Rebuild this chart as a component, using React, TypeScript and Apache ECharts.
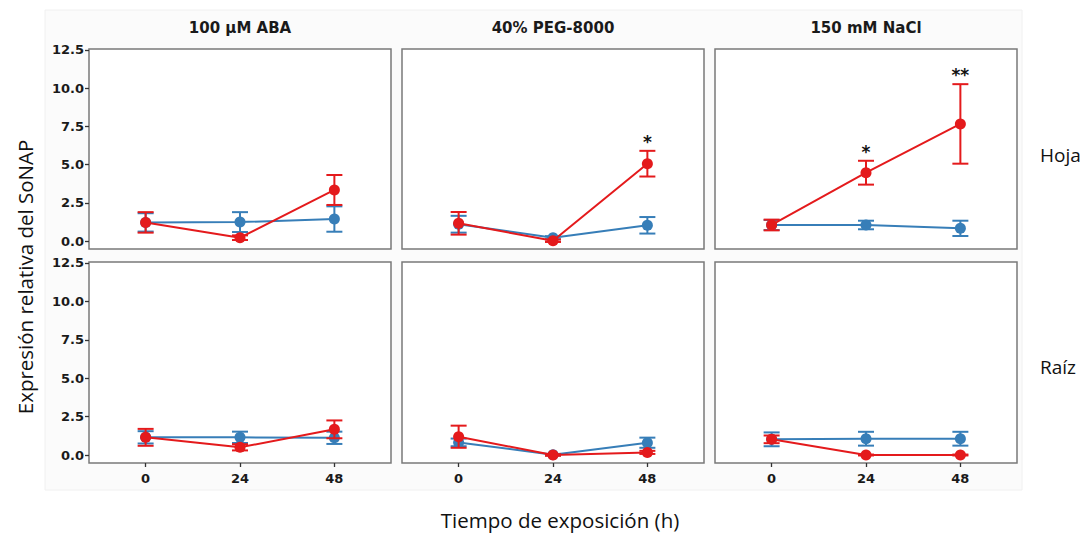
import React, { useEffect, useRef } from "react";
import * as echarts from "echarts";

const treatments = ["100 µM ABA", "40% PEG-8000", "150 mM NaCl"];
const tissues = ["Hoja", "Raíz"];
const timeLabels = ["0", "24", "48"];
const yTicks = [0, 2.5, 5, 7.5, 10, 12.5];

// [treatment][time]
const hojaControlMean = [[1.22, 1.24, 1.44], [1.1, 0.22, 1.03], [1.05, 1.05, 0.83]];
const hojaControlErr = [[0.6, 0.65, 0.83], [0.55, 0.1, 0.54], [0.33, 0.28, 0.5]];
const hojaStressMean = [[1.22, 0.22, 3.34], [1.16, 0.02, 5.06], [1.05, 4.47, 7.66]];
const hojaStressErr = [[0.67, 0.15, 0.98], [0.74, 0.08, 0.84], [0.35, 0.78, 2.6]];
const raizControlMean = [[1.15, 1.15, 1.12], [0.82, 0.02, 0.8], [1.02, 1.06, 1.06]];
const raizControlErr = [[0.4, 0.37, 0.4], [0.25, 0.05, 0.33], [0.45, 0.45, 0.45]];
const raizStressMean = [[1.15, 0.5, 1.67], [1.19, 0.0, 0.17], [1.02, 0.0, 0.0]];
const raizStressErr = [[0.55, 0.2, 0.58], [0.72, 0.05, 0.1], [0.25, 0.03, 0.03]];

// significance marks: tissue index, treatment index, time index, label
const sigTissue = [0, 0, 0];
const sigTreatment = [1, 2, 2];
const sigTime = [2, 1, 2];
const sigLabel = ["*", "*", "**"];

const BLUE = "#377eb8";
const RED = "#e41a1c";
const TICK_FONT = "DejaVu Sans";
const TEXT_FONT = "Open Sans";

export default function App() {
  const ref = useRef<HTMLDivElement>(null);

  useEffect(() => {
    if (!ref.current) return;
    const chart = echarts.init(ref.current, null, { renderer: "svg" });

    const gridLefts = [89, 402, 715];
    const gridTops = [49, 262];
    const gridHeights = [200, 201];
    const grids: any[] = [];
    const xAxes: any[] = [];
    const yAxes: any[] = [];
    const series: any[] = [];

    const errRender = (color: string) => (params: any, api: any) => {
      const x = api.value(0);
      const lo = api.value(1);
      const hi = api.value(2);
      const pLo = api.coord([x, lo]);
      const pHi = api.coord([x, hi]);
      const w = 8;
      const style = { stroke: color, lineWidth: 2 };
      return {
        type: "group",
        children: [
          { type: "line", shape: { x1: pLo[0], y1: pLo[1], x2: pHi[0], y2: pHi[1] }, style },
          { type: "line", shape: { x1: pLo[0] - w, y1: pLo[1], x2: pLo[0] + w, y2: pLo[1] }, style },
          { type: "line", shape: { x1: pHi[0] - w, y1: pHi[1], x2: pHi[0] + w, y2: pHi[1] }, style },
        ],
      };
    };

    let gi = 0;
    for (let r = 0; r < 2; r++) {
      for (let c = 0; c < 3; c++) {
        grids.push({
          left: gridLefts[c],
          top: gridTops[r],
          width: 302,
          height: gridHeights[r],
          show: true,
          backgroundColor: "#ffffff",
          borderColor: "#7a7a7a",
          borderWidth: 1.5,
        });
        const bottomRow = r === 1;
        xAxes.push({
          type: "value",
          gridIndex: gi,
          min: -0.6,
          max: 2.6,
          splitLine: { show: false },
          axisLine: { show: false, onZero: false },
          axisTick: {
            show: bottomRow,
            customValues: [0, 1, 2],
            length: 4,
            lineStyle: { color: "#333", width: 1.3 },
          },
          axisLabel: {
            show: bottomRow,
            customValues: [0, 1, 2],
            formatter: (v: number) => timeLabels[Math.round(v)],
            fontFamily: TICK_FONT,
            fontWeight: "bold",
            fontSize: 13,
            color: "#1a1a1a",
            margin: 9,
          },
        });
        const leftCol = c === 0;
        yAxes.push({
          type: "value",
          gridIndex: gi,
          min: -0.52,
          max: 12.56,
          splitLine: { show: false },
          axisLine: { show: false, onZero: false },
          axisTick: {
            show: leftCol,
            customValues: yTicks,
            length: 4,
            lineStyle: { color: "#333", width: 1.3 },
          },
          axisLabel: {
            show: leftCol,
            customValues: yTicks,
            formatter: (v: number) => v.toFixed(1),
            fontFamily: TICK_FONT,
            fontWeight: "bold",
            fontSize: 13,
            color: "#1a1a1a",
            margin: 5,
          },
        });

        const cm = r === 0 ? hojaControlMean[c] : raizControlMean[c];
        const ce = r === 0 ? hojaControlErr[c] : raizControlErr[c];
        const sm = r === 0 ? hojaStressMean[c] : raizStressMean[c];
        const se = r === 0 ? hojaStressErr[c] : raizStressErr[c];

        const groups = [
          { mean: cm, err: ce, color: BLUE },
          { mean: sm, err: se, color: RED },
        ];
        groups.forEach((g, k) => {
          series.push({
            type: "custom",
            xAxisIndex: gi,
            yAxisIndex: gi,
            z: 2 + k * 2,
            renderItem: errRender(g.color),
            encode: { x: 0, y: [1, 2] },
            data: g.mean.map((m, i) => [i, m - g.err[i], m + g.err[i]]),
            silent: true,
          });
          series.push({
            type: "line",
            xAxisIndex: gi,
            yAxisIndex: gi,
            z: 3 + k * 2,
            symbol: "circle",
            symbolSize: 11,
            showSymbol: true,
            lineStyle: { color: g.color, width: 2 },
            itemStyle: { color: g.color },
            data: g.mean.map((m, i) => [i, m]),
            silent: true,
          });
        });

        // significance marks for this panel
        const marks: any[] = [];
        sigLabel.forEach((lab, s) => {
          if (sigTissue[s] === r && sigTreatment[s] === c) {
            const t = sigTime[s];
            const hi = r === 0 ? hojaStressMean[c][t] + hojaStressErr[c][t] : raizStressMean[c][t] + raizStressErr[c][t];
            marks.push([t, hi, lab]);
          }
        });
        if (marks.length) {
          series.push({
            type: "custom",
            xAxisIndex: gi,
            yAxisIndex: gi,
            z: 10,
            silent: true,
            encode: { x: 0, y: 1 },
            data: marks,
            renderItem: (params: any, api: any) => {
              const p = api.coord([api.value(0), api.value(1)]);
              const lab = marks[params.dataIndex][2];
              return {
                type: "text",
                x: p[0],
                y: p[1] - 9,
                style: {
                  text: lab,
                  align: "center",
                  verticalAlign: "middle",
                  fontFamily: TICK_FONT,
                  fontWeight: "bold",
                  fontSize: 17,
                  fill: "#111",
                },
              };
            },
          });
        }
        gi++;
      }
    }

    const graphic: any[] = [
      {
        type: "rect",
        z: -10,
        shape: { x: 45, y: 10, width: 977, height: 480 },
        style: { fill: "#fbfbfb", stroke: "#f0f0f0", lineWidth: 1 },
        silent: true,
      },
    ];
    treatments.forEach((t, c) => {
      graphic.push({
        type: "text",
        x: gridLefts[c] + 151,
        y: 28,
        style: {
          text: t,
          align: "center",
          verticalAlign: "middle",
          fontFamily: TICK_FONT,
          fontWeight: "bold",
          fontSize: 15,
          fill: "#1a1a1a",
        },
      });
    });
    const tissueY = [155, 367];
    tissues.forEach((t, r) => {
      graphic.push({
        type: "text",
        x: 1040,
        y: tissueY[r],
        style: {
          text: t,
          align: "left",
          verticalAlign: "middle",
          fontFamily: TEXT_FONT,
          fontSize: 19,
          fill: "#111",
        },
      });
    });
    graphic.push({
      type: "text",
      x: 560,
      y: 520,
      style: {
        text: "Tiempo de exposición (h)",
        align: "center",
        verticalAlign: "middle",
        fontFamily: TEXT_FONT,
        fontSize: 20.5,
        lineHeight: 22,
        fill: "#111",
      },
    });
    graphic.push({
      type: "text",
      x: 25,
      y: 277,
      rotation: Math.PI / 2,
      style: {
        text: "Expresión relativa del SoNAP",
        align: "center",
        verticalAlign: "middle",
        fontFamily: TEXT_FONT,
        fontSize: 20.5,
        fill: "#111",
      },
    });

    chart.setOption({
      animation: false,
      backgroundColor: "#ffffff",
      grid: grids,
      xAxis: xAxes,
      yAxis: yAxes,
      series,
      graphic,
    });

    return () => chart.dispose();
  }, []);

  return (
    <div
      ref={ref}
      style={{ position: "fixed", left: 0, top: 0, width: 1087, height: 534 }}
    />
  );
}
